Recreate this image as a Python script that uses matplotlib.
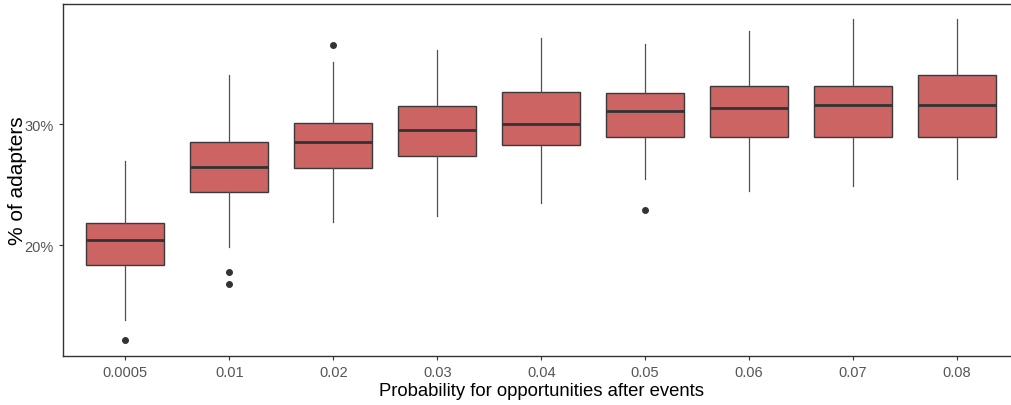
import matplotlib
matplotlib.use("Agg")
import matplotlib.pyplot as plt
from matplotlib.ticker import FuncFormatter

# =========================
# DATA (in %)
# =========================
categories = ["0.0005", "0.01", "0.02", "0.03", "0.04", "0.05", "0.06", "0.07", "0.08"]
whisker_low = [13.8, 19.86, 21.9, 22.37, 23.45, 25.51, 24.46, 24.93, 25.51]
q1 = [18.35, 24.4, 26.42, 27.41, 28.32, 28.98, 28.98, 28.98, 28.98]
median = [20.41, 26.5, 28.54, 29.5, 30.0, 31.07, 31.35, 31.57, 31.57]
q3 = [21.82, 28.57, 30.14, 31.55, 32.67, 32.59, 33.17, 33.17, 34.07]
whisker_high = [26.94, 34.07, 35.18, 36.14, 37.16, 36.64, 37.71, 38.7, 38.7]
outliers = [[12.15], [17.74, 16.75], [36.6], [], [], [22.92], [], [], []]

y_ticks = [20, 30]

# =========================
# BUILD BOX STATS
# =========================
stats = []
for i in range(len(categories)):
    stats.append({
        "whislo": whisker_low[i],
        "q1": q1[i],
        "med": median[i],
        "q3": q3[i],
        "whishi": whisker_high[i],
        "fliers": outliers[i],
    })

# =========================
# PLOT
# =========================
plt.rcParams["font.family"] = ["Liberation Sans", "DejaVu Sans"]

fig = plt.figure(figsize=(10.11, 4.06), dpi=100)
ax = fig.add_axes([63 / 1011, 49 / 406, (1019.4 - 63) / 1011, (357.5 - 5) / 406])

positions = range(1, len(categories) + 1)
ax.bxp(
    stats,
    positions=positions,
    widths=0.75,
    patch_artist=True,
    showcaps=False,
    boxprops=dict(facecolor="#CC6464", edgecolor="#3a3a3a", linewidth=1.0),
    medianprops=dict(color="#333333", linewidth=2.0),
    whiskerprops=dict(color="#505050", linewidth=0.9),
    flierprops=dict(marker="o", markerfacecolor="#333333", markeredgecolor="#333333",
                    markersize=4),
)

ax.set_xlim(0.4, 9.6)
ax.set_ylim(10.8, 40.02)
ax.set_xticks(list(positions))
ax.set_xticklabels(categories)
ax.set_yticks(y_ticks)
ax.yaxis.set_major_formatter(FuncFormatter(lambda v, p: f"{v:.0f}%"))

for side in ["left", "bottom", "top", "right"]:
    ax.spines[side].set_color("#333333")
    ax.spines[side].set_linewidth(1.0)

ax.tick_params(axis="both", colors="#333333", length=3, width=0.8,
               labelsize=10.5, labelcolor="#555555")

ax.set_xlabel("Probability for opportunities after events", fontsize=13.3, color="black", labelpad=2)
ax.set_ylabel("% of adapters", fontsize=15, color="black", labelpad=-2)

fig.savefig("out.png", dpi=100)
